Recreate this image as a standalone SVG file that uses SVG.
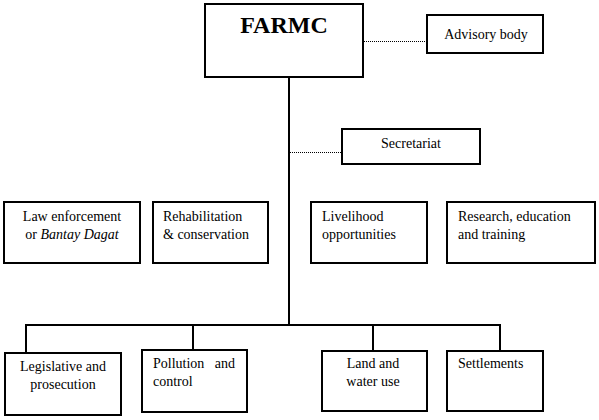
<svg xmlns="http://www.w3.org/2000/svg" width="599" height="420" viewBox="0 0 599 420">
<style>
.box{fill:#fff;stroke:#000;stroke-width:2}
.ln{fill:none;stroke:#000;stroke-width:2}
.dot{fill:none;stroke:#000;stroke-width:1;stroke-dasharray:1 1}
text{font-family:"Liberation Serif","Times New Roman",serif;font-size:14px;fill:#000}
.c{text-anchor:middle}
.title{font-size:24px;font-weight:bold}
</style>
<rect width="599" height="420" fill="#fff"/>
<g id="connectors">
<line class="ln" x1="289" y1="77" x2="289" y2="325"/>
<polyline class="ln" points="26,354 26,325 500,325 500,352"/>
<line class="ln" x1="193" y1="325" x2="193" y2="351"/>
<line class="ln" x1="373" y1="325" x2="373" y2="352"/>
<line class="dot" x1="364" y1="41.5" x2="427" y2="41.5"/>
<line class="dot" x1="290" y1="152.5" x2="342" y2="152.5"/>
</g>
<g id="farmc"><rect class="box" x="205" y="4" width="158" height="73"/><text class="title c" x="284" y="33">FARMC</text></g>
<g id="advisory"><rect class="box" x="427" y="15" width="116" height="38"/><text class="c" x="486" y="39">Advisory body</text></g>
<g id="secretariat"><rect class="box" x="342" y="129" width="138" height="35"/><text class="c" x="411" y="148">Secretariat</text></g>
<g id="law"><rect class="box" x="4" y="202" width="136" height="61"/><text class="c" x="72" y="221">Law enforcement</text><text class="c" x="72" y="239">or <tspan font-style="italic">Bantay Dagat</tspan></text></g>
<g id="rehab"><rect class="box" x="153" y="202" width="115" height="61"/><text x="163" y="221">Rehabilitation</text><text x="163" y="239">&amp; conservation</text></g>
<g id="livelihood"><rect class="box" x="311" y="202" width="116" height="61"/><text x="322" y="221">Livelihood</text><text x="322" y="239">opportunities</text></g>
<g id="research"><rect class="box" x="447" y="202" width="148" height="61"/><text x="458" y="221">Research, education</text><text x="458" y="239">and training</text></g>
<g id="legislative"><rect class="box" x="5" y="353" width="116" height="62"/><text class="c" x="63" y="371">Legislative and</text><text class="c" x="63" y="389">prosecution</text></g>
<g id="pollution"><rect class="box" x="142" y="350" width="105" height="62"/><text x="153" y="368" xml:space="preserve">Pollution   and</text><text x="153" y="386">control</text></g>
<g id="land"><rect class="box" x="322" y="351" width="105" height="60"/><text class="c" x="373" y="368">Land and</text><text class="c" x="373" y="386">water use</text></g>
<g id="settlements"><rect class="box" x="447" y="351" width="96" height="60"/><text x="458" y="368">Settlements</text></g>
</svg>
